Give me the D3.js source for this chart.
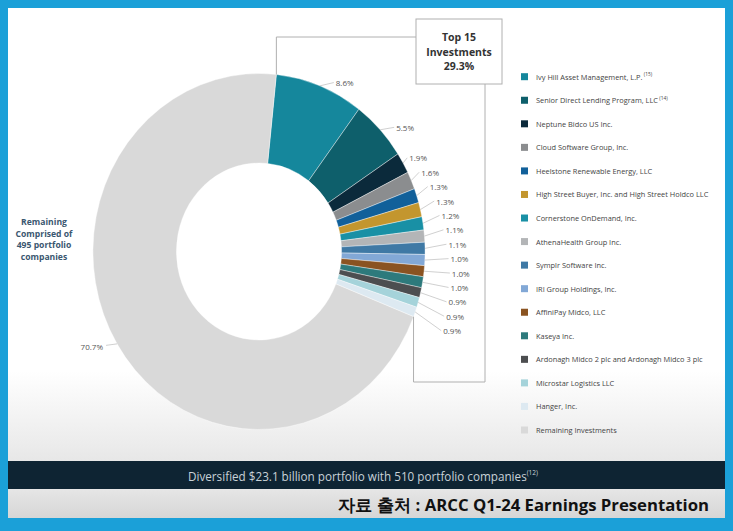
<!DOCTYPE html>
<html><head><meta charset="utf-8">
<script src="https://cdn.jsdelivr.net/npm/d3@7"></script>
<style>
html,body{margin:0;padding:0;background:#1ba0d8;}
svg{display:block;}
text{font-family:"Open Sans",sans-serif;}
</style></head>
<body>
<svg id="chart" width="733" height="531"></svg>
<script>
// ---------- DATA ----------
const categories = [
  "Ivy Hill Asset Management, L.P.",
  "Senior Direct Lending Program, LLC",
  "Neptune Bidco US Inc.",
  "Cloud Software Group, Inc.",
  "Heelstone Renewable Energy, LLC",
  "High Street Buyer, Inc. and High Street Holdco LLC",
  "Cornerstone OnDemand, Inc.",
  "AthenaHealth Group Inc.",
  "Symplr Software Inc.",
  "IRI Group Holdings, Inc.",
  "AffiniPay Midco, LLC",
  "Kaseya Inc.",
  "Ardonagh Midco 2 plc and Ardonagh Midco 3 plc",
  "Microstar Logistics LLC",
  "Hanger, Inc.",
  "Remaining Investments"
];
const footnotes = ["(15)", "(14)", "", "", "", "", "", "", "", "", "", "", "", "", "", ""];
const values = [8.6, 5.5, 1.9, 1.6, 1.3, 1.3, 1.2, 1.1, 1.1, 1.0, 1.0, 1.0, 0.9, 0.9, 0.9, 70.7];
const valueLabels = ["8.6%", "5.5%", "1.9%", "1.6%", "1.3%", "1.3%", "1.2%", "1.1%", "1.1%", "1.0%", "1.0%", "1.0%", "0.9%", "0.9%", "0.9%", "70.7%"];
const colors = ["#15879c", "#0e5f6b", "#0b2a3b", "#8b8d8f", "#11609a", "#c3962e", "#1990a5", "#b3b5b7",
                "#3f79a5", "#82a8d6", "#8a5321", "#2d7a7c", "#4c4e50", "#a5d3da", "#dde9f1", "#d9d9d9"];
const topBoxLines = ["Top 15", "Investments", "29.3%"];
const remainingLines = ["Remaining", "Comprised of", "495 portfolio", "companies"];
const bannerText = "Diversified $23.1 billion portfolio with 510 portfolio companies";
const bannerNote = "(12)";
const sourceText = "자료 출처 : ARCC Q1-24 Earnings Presentation";

// ---------- LAYOUT ----------
const W = 733, H = 531;
const svg = d3.select("#chart");
const defs = svg.append("defs");
const g1 = defs.append("linearGradient").attr("id","panelGrad").attr("x1",0).attr("y1",0).attr("x2",0).attr("y2",1);
g1.append("stop").attr("offset","0%").attr("stop-color","#ffffff");
g1.append("stop").attr("offset","80%").attr("stop-color","#ffffff");
g1.append("stop").attr("offset","100%").attr("stop-color","#e7e7e7");
const g2 = defs.append("linearGradient").attr("id","stripGrad").attr("x1",0).attr("y1",0).attr("x2",0).attr("y2",1);
g2.append("stop").attr("offset","0%").attr("stop-color","#e6e6e6");
g2.append("stop").attr("offset","100%").attr("stop-color","#d6d6d6");

// frame
svg.append("rect").attr("x",0).attr("y",0).attr("width",W).attr("height",H).attr("fill","#1ba0d8");
svg.append("rect").attr("x",8).attr("y",8).attr("width",717).attr("height",454).attr("fill","url(#panelGrad)");
svg.append("rect").attr("x",8).attr("y",461).attr("width",717).attr("height",28).attr("fill","#0e2433");
svg.append("rect").attr("x",8).attr("y",489).attr("width",717).attr("height",29).attr("fill","url(#stripGrad)");

// donut geometry
const cx = 259, cy = 251.5, R = 178, r0 = 88.5, sx = 0.933;
const start = 6 * Math.PI / 180;
const pie = d3.pie().sort(null).value(d => d).startAngle(start).endAngle(start + 2 * Math.PI);
const arcs = pie(values);
const arc = d3.arc().innerRadius(r0).outerRadius(R);
const pt = (a, rad) => [cx + sx * rad * Math.sin(a), cy - rad * Math.cos(a)];

const donut = svg.append("g").attr("transform", `translate(${cx},${cy}) scale(${sx},1)`);
donut.selectAll("path").data(arcs).join("path")
  .attr("d", arc)
  .attr("fill", (d, i) => colors[i])
  .attr("stroke", "#ffffff").attr("stroke-width", 0.4);

// bracket lines and Top 15 box
const topN = 15;
const aStart = arcs[0].startAngle, aEnd = arcs[topN - 1].endAngle;
const pS = pt(aStart, R), pE = pt(aEnd, R);
const box = {x: 416, y: 19, w: 86, h: 65};
const lineCol = "#b0b0b0";
svg.append("path").attr("fill","none").attr("stroke",lineCol).attr("stroke-width",1)
  .attr("d", `M${pS[0]},${pS[1]} V37 H${box.x}`);
svg.append("path").attr("fill","none").attr("stroke",lineCol).attr("stroke-width",1)
  .attr("d", `M${pE[0]},${pE[1]} V382 H485 V${box.y + box.h}`);
svg.append("rect").attr("x",box.x).attr("y",box.y).attr("width",box.w).attr("height",box.h)
  .attr("fill","#fff").attr("stroke",lineCol).attr("stroke-width",1);
svg.append("g").selectAll("text").data(topBoxLines).join("text")
  .attr("x", box.x + box.w / 2).attr("y", (d, i) => 37 + i * 14.5)
  .attr("text-anchor","middle").attr("dominant-baseline","central")
  .attr("font-size", 10.5).attr("font-weight", 700).attr("fill", "#333")
  .text(d => d);

// value labels with vertical spreading
const gap = 14.4;
const lab = arcs.slice(0, topN).map((d, i) => {
  const mid = (d.startAngle + d.endAngle) / 2;
  const o = pt(mid, R);
  const deg = mid * 180 / Math.PI;
  const off = deg < 55 ? 16 : Math.max(6, Math.min(28, 6 + 0.6 * (deg - 60)));
  return {i, mid, o, y0: pt(mid, R * 1.02)[1], x: o[0] + off};
});
// cluster-based de-overlap
let clusters = lab.map(l => ({items: [l], mean: l.y0}));
let changed = true;
while (changed) {
  changed = false;
  for (let k = 0; k < clusters.length - 1; k++) {
    const a = clusters[k], b = clusters[k + 1];
    const aBottom = a.mean + (a.items.length - 1) * gap / 2;
    const bTop = b.mean - (b.items.length - 1) * gap / 2;
    if (bTop - aBottom < gap) {
      const items = a.items.concat(b.items);
      clusters.splice(k, 2, {items, mean: d3.mean(items, t => t.y0)});
      changed = true; break;
    }
  }
}
clusters.forEach(c => c.items.forEach((t, j) => { t.y = c.mean + (j - (c.items.length - 1) / 2) * gap; }));

const labG = svg.append("g");
labG.selectAll("line").data(lab).join("line")
  .attr("x1", d => d.o[0]).attr("y1", d => d.o[1])
  .attr("x2", d => d.x - 2).attr("y2", d => d.y)
  .attr("stroke", "#c4c4c4").attr("stroke-width", 0.8);
labG.selectAll("text").data(lab).join("text")
  .attr("x", d => d.x).attr("y", d => d.y)
  .attr("dominant-baseline","central").attr("font-size", 8).attr("fill", "#555")
  .text(d => valueLabels[d.i]);

// remaining label
const rem = arcs[topN];
const rMid = (rem.startAngle + rem.endAngle) / 2;
const ro = pt(rMid, R);
svg.append("line").attr("x1", ro[0]).attr("y1", ro[1]).attr("x2", ro[0] - 11).attr("y2", ro[1] + 1.5)
  .attr("stroke","#c4c4c4").attr("stroke-width",0.8);
svg.append("text").attr("x", ro[0] - 14).attr("y", ro[1] + 2.5)
  .attr("text-anchor","end").attr("dominant-baseline","central")
  .attr("font-size", 8).attr("fill","#555").text(valueLabels[topN]);

svg.append("g").selectAll("text").data(remainingLines).join("text")
  .attr("x", 44).attr("y", (d, i) => 222 + i * 11.5)
  .attr("text-anchor","middle").attr("dominant-baseline","central")
  .attr("font-size", 8.6).attr("font-weight", 700).attr("fill", "#3b5770")
  .text(d => d);

// legend
const legY = d3.scalePoint().domain(d3.range(categories.length)).range([76.7, 430]);
const leg = svg.append("g").selectAll("g").data(categories).join("g")
  .attr("transform", (d, i) => `translate(521,${legY(i)})`);
leg.append("rect").attr("x",0).attr("y",-3.5).attr("width",7).attr("height",7).attr("fill",(d,i)=>colors[i]);
const lt = leg.append("text").attr("x", 15).attr("y", 0).attr("dominant-baseline","central")
  .attr("font-size", 7.4).attr("fill", "#444");
lt.append("tspan").text(d => d);
lt.append("tspan").attr("dy", -2.5).attr("font-size", 4.8).text((d, i) => footnotes[i] ? " " + footnotes[i] : "");

// banner
const bt = svg.append("text").attr("x", 188).attr("y", 475.5).attr("dominant-baseline","central")
  .attr("font-size", 11.7).attr("fill", "#c9d2d8");
bt.append("tspan").text(bannerText);
bt.append("tspan").attr("dy", -4).attr("font-size", 6.5).text(bannerNote);

svg.append("text").attr("x", 709).attr("y", 504.5).attr("text-anchor","end").attr("dominant-baseline","central")
  .attr("font-family", "'Noto Sans CJK KR', sans-serif").attr("font-weight", 700)
  .attr("font-size", 16.5).attr("fill", "#111")
  .attr("textLength", 371).attr("lengthAdjust", "spacingAndGlyphs")
  .text(sourceText);
</script>
</body></html>
